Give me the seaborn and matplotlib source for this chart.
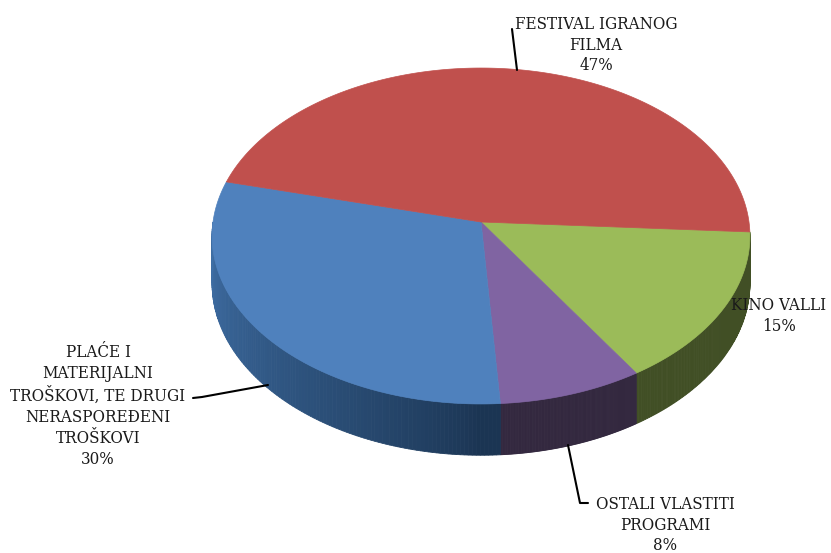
import numpy as np
import matplotlib
matplotlib.use('Agg')
import matplotlib.pyplot as plt
import seaborn as sns
from matplotlib.patches import Polygon

sns.set_style('white')
plt.rcParams['font.family'] = ['DejaVu Serif']

# slices clockwise, starting just below the right edge
labels = ['KINO VALLI', 'OSTALI VLASTITI\nPROGRAMI',
          'PLAĆE I\nMATERIJALNI\nTROŠKOVI, TE DRUGI\nNERASPOREĐENI\nTROŠKOVI',
          'FESTIVAL IGRANOG\nFILMA']
values = [15, 8, 30, 47]
top_colors = ['#9BBB59', '#8064A2', '#4F81BD', '#C0504D']
side_colors = ['#414F25', '#33283F', '#2A4E78', '#7A2E2C']
start_angle = 3.4

# pie geometry (pixels), with a bit of perspective
cx, cy = 481, 222
R, Rv, k = 268, 166.8, 0.0833
H = 47


def proj(theta, depth=0.0):
    t = np.radians(theta)
    u, v = np.cos(t), np.sin(t)
    s = 1.0 / (1.0 - k * v)
    return cx + R * u * s, cy + Rv * v * s + depth * s


fig = plt.figure(figsize=(8.31, 5.53), dpi=100)
ax = fig.add_axes([0, 0, 1, 1])
ax.set_xlim(0, 831)
ax.set_ylim(553, 0)
ax.axis('off')

bounds = start_angle + np.concatenate([[0], np.cumsum(values)]) * 3.6

# side walls (only the near half shows)
for i, (a0, a1) in enumerate(zip(bounds[:-1], bounds[1:])):
    lo, hi = max(a0, 0), min(a1, 180)
    if lo >= hi:
        continue
    ts = np.linspace(lo, hi, 120)
    for j in range(len(ts) - 1):
        t0, t1 = ts[j], ts[j + 1]
        x0, y0 = proj(t0)
        x1, y1 = proj(t1)
        x2, y2 = proj(t1, H)
        x3, y3 = proj(t0, H)
        col = np.array(matplotlib.colors.to_rgb(side_colors[i]))
        if i == 2:
            # blue wall gets lighter toward the left edge
            f = (t0 - 90) / 90.0
            dark = np.array(matplotlib.colors.to_rgb('#1B3553'))
            light = np.array(matplotlib.colors.to_rgb('#3F6FA6'))
            col = dark + (light - dark) * np.clip(f, 0, 1) ** 0.8
        ax.add_patch(Polygon([(x0, y0), (x1, y1), (x2, y2), (x3, y3)],
                             closed=True, facecolor=col, edgecolor=col, lw=0.6))

# top face
for i, (a0, a1) in enumerate(zip(bounds[:-1], bounds[1:])):
    ts = np.linspace(a0, a1, 200)
    pts = [(cx, cy)] + [proj(t) for t in ts]
    ax.add_patch(Polygon(pts, closed=True, facecolor=top_colors[i],
                         edgecolor=top_colors[i], lw=0.5))

# labels
fs = 12.2
kw = dict(fontsize=fs, color='#1a1a1a', ha='center', va='center',
          linespacing=1.3, fontstretch='condensed')
ax.text(779, 316, f'{labels[0]}\n{values[0]}%', **kw)
ax.text(665, 525, f'{labels[1]}\n{values[1]}%', **kw)
ax.text(98, 406, f'{labels[2]}\n{values[2]}%', **kw)
ax.text(596, 45, f'{labels[3]}\n{values[3]}%', **kw)

# leader lines
ax.plot([517, 512], [70, 29], color='black', lw=1.5)
ax.plot([268, 202, 193], [385, 397, 398], color='black', lw=1.5)
ax.plot([568, 580, 588], [445, 503, 503], color='black', lw=1.5)

fig.savefig('out.png', dpi=100)
